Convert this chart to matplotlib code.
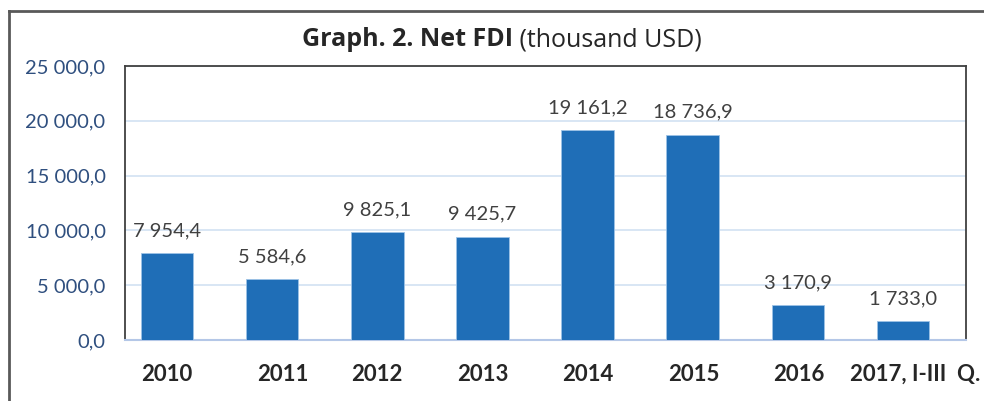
import matplotlib
matplotlib.use("Agg")
import matplotlib.pyplot as plt
from matplotlib.lines import Line2D
from matplotlib.transforms import ScaledTranslation
from matplotlib.ticker import FuncFormatter

categories = ["2010", "2011", "2012", "2013", "2014", "2015", "2016", "2017, I-III  Q."]
values = [7954.4, 5584.6, 9825.1, 9425.7, 19161.2, 18736.9, 3170.9, 1733.0]
yticks = [0, 5000, 10000, 15000, 20000, 25000]

FONT = "Lato"
BAR = "#1F6EB7"

def fmt(v):
    s = f"{v:,.1f}"
    return s.replace(",", " ").replace(".", ",")

fig = plt.figure(figsize=(9.84, 4.01), dpi=100)
ax = fig.add_axes([125/984, 61/401, (966-125)/984, (340-66)/401])

x = list(range(len(categories)))
ax.bar(x, values, width=0.5, color=BAR, edgecolor="#9DC3E6", linewidth=0.6, zorder=3)
ax.set_xlim(-0.40, len(categories) - 0.40)
ax.set_ylim(0, 25000)
ax.set_yticks(yticks)
ax.yaxis.set_major_formatter(FuncFormatter(lambda v, p: fmt(v)))
ax.grid(axis="y", color="#D2E1F2", linewidth=1.2, zorder=0)
ax.tick_params(axis="y", length=0, pad=14, labelsize=14.5, labelcolor="#2F4F7F")
ax.tick_params(axis="x", length=0, pad=17, labelsize=16)
for lab in ax.get_yticklabels():
    lab.set_fontfamily(FONT)
ax.set_xticks(x)
ax.set_xticklabels(categories, fontfamily=FONT, fontweight="bold", color="#262626")
offsets = [0, 11, 0, 0, 0, 1, 1, 12]
for lab, dx in zip(ax.get_xticklabels(), offsets):
    lab.set_transform(lab.get_transform() + ScaledTranslation(dx/100, 0, fig.dpi_scale_trans))

for s in ["left", "top", "right"]:
    ax.spines[s].set_color("#404040")
    ax.spines[s].set_linewidth(1.3)
ax.spines["bottom"].set_color("#B4C7E7")
ax.spines["bottom"].set_linewidth(1.5)

for xi, v in zip(x, values):
    ax.annotate(fmt(v), (xi, v), xytext=(0, 10), textcoords="offset points",
                ha="center", va="bottom", fontsize=14.5, fontfamily=FONT, color="#404040")

t1 = fig.text(0, 0, "Graph. 2. Net FDI", fontsize=18, fontweight="bold", fontfamily="Open Sans", color="#262626", va="center")
t2 = fig.text(0, 0, " (thousand USD)", fontsize=18, fontfamily="Open Sans", color="#262626", va="center")
fig.canvas.draw()
r = fig.canvas.get_renderer()
w1 = t1.get_window_extent(r).width
w2 = t2.get_window_extent(r).width
x0 = 502 - (w1 + w2) / 2
yc = 1 - 40/401
t1.set_position((x0/984, yc))
t2.set_position(((x0 + w1)/984, yc))

fig.add_artist(Line2D([8.5/984, 8.5/984], [0, 1 - 11/401], transform=fig.transFigure, color="#595959", linewidth=2))
fig.add_artist(Line2D([8.5/984, 1], [1 - 11/401, 1 - 11/401], transform=fig.transFigure, color="#595959", linewidth=2))

fig.savefig("out.png", dpi=100)
